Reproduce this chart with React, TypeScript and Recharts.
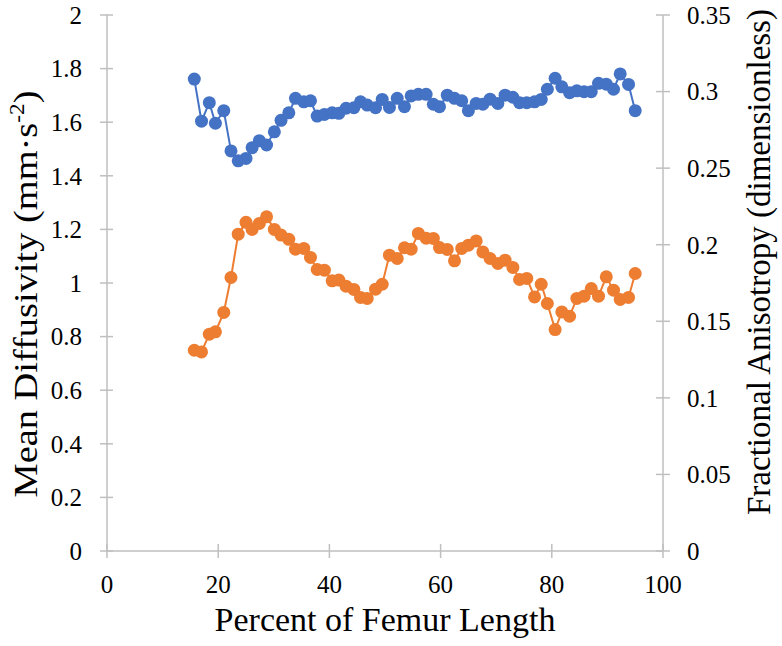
import { LineChart, Line, XAxis, YAxis, Label } from 'recharts';

// percent of femur length for each sample
const percent = [
  15.7, 17.0, 18.4, 19.5, 21.0, 22.3, 23.6, 25.0, 26.1, 27.4,
  28.7, 30.1, 31.3, 32.7, 33.9, 35.4, 36.6, 37.8, 39.1, 40.5,
  41.7, 43.0, 44.4, 45.6, 46.8, 48.3, 49.5, 50.8, 52.2, 53.5,
  54.7, 56.0, 57.4, 58.7, 59.8, 61.2, 62.5, 63.8, 65.0, 66.4,
  67.6, 68.9, 70.3, 71.6, 73.0, 74.2, 75.5, 76.9, 78.1, 79.2,
  80.6, 81.8, 83.2, 84.5, 85.8, 87.1, 88.4, 89.8, 91.1, 92.3,
  93.8, 95.0,
];

const meanDiffusivity = [
  1.761, 1.604, 1.673, 1.596, 1.643, 1.493, 1.456, 1.465, 1.505, 1.531,
  1.515, 1.564, 1.607, 1.635, 1.689, 1.676, 1.680, 1.623, 1.629, 1.635,
  1.633, 1.652, 1.654, 1.676, 1.664, 1.654, 1.685, 1.655, 1.689, 1.658,
  1.698, 1.704, 1.704, 1.667, 1.658, 1.701, 1.689, 1.680, 1.643, 1.670,
  1.667, 1.686, 1.670, 1.701, 1.693, 1.673, 1.673, 1.676, 1.685, 1.723,
  1.764, 1.732, 1.710, 1.717, 1.714, 1.714, 1.745, 1.742, 1.723, 1.780,
  1.741, 1.643,
];

const fractionalAnisotropy = [
  0.1311, 0.1300, 0.1416, 0.1431, 0.1558, 0.1786, 0.2069, 0.2146, 0.2100, 0.2139,
  0.2182, 0.2100, 0.2063, 0.2035, 0.1971, 0.1976, 0.1917, 0.1838, 0.1834, 0.1764,
  0.1769, 0.1729, 0.1708, 0.1656, 0.1649, 0.1710, 0.1742, 0.1932, 0.1910, 0.1980,
  0.1971, 0.2074, 0.2043, 0.2041, 0.1981, 0.1969, 0.1895, 0.1976, 0.1997, 0.2025,
  0.1953, 0.1910, 0.1878, 0.1899, 0.1852, 0.1773, 0.1780, 0.1659, 0.1742, 0.1616,
  0.1446, 0.1561, 0.1533, 0.1649, 0.1664, 0.1714, 0.1664, 0.1790, 0.1703, 0.1643,
  0.1656, 0.1812,
];

const xTicks = [0, 20, 40, 60, 80, 100];
const mdTicks = [0, 0.2, 0.4, 0.6, 0.8, 1, 1.2, 1.4, 1.6, 1.8, 2];
const faTicks = [0, 0.05, 0.1, 0.15, 0.2, 0.25, 0.3, 0.35];

const data = percent.map((x, i) => ({
  x,
  md: meanDiffusivity[i],
  fa: fractionalAnisotropy[i],
}));

const FONT = '"Liberation Serif", "DejaVu Serif", serif';
const AXIS = '#bfbfbf';
const TICK_SIZE = 7;
const TICK_MARGIN = 17;

// Excel style "cross" ticks: the outer half comes from recharts, the inner half is drawn here
const CrossTick = ({ x, y, payload, orient }: any) => {
  const off = TICK_SIZE + TICK_MARGIN;
  let line = null;
  if (orient === 'left') {
    const ax = x + off;
    line = <line x1={ax} x2={ax + TICK_SIZE} y1={y} y2={y} stroke={AXIS} strokeWidth={1.5} />;
  } else if (orient === 'right') {
    const ax = x - off;
    line = <line x1={ax - TICK_SIZE} x2={ax} y1={y} y2={y} stroke={AXIS} strokeWidth={1.5} />;
  } else {
    const ay = y - off;
    line = <line x1={x} x2={x} y1={ay - TICK_SIZE} y2={ay} stroke={AXIS} strokeWidth={1.5} />;
  }
  return (
    <g>
      {line}
      <text
        x={x}
        y={y}
        dy={orient === 'bottom' ? '0.71em' : '0.355em'}
        textAnchor={orient === 'left' ? 'end' : orient === 'right' ? 'start' : 'middle'}
        fill="#000"
        style={{ fontFamily: FONT, fontSize: 25 }}
      >
        {String(payload.value)}
      </text>
    </g>
  );
};

export default function App() {
  return (
    <div style={{ position: 'absolute', left: 0, top: 0, background: '#fff', fontFamily: FONT }}>
      <LineChart
        width={782}
        height={646}
        data={data}
        margin={{ top: 15, right: 0, bottom: 0, left: 0 }}
      >
        <XAxis
          type="number"
          dataKey="x"
          domain={[0, 100]}
          ticks={xTicks}
          height={95}
          stroke={AXIS}
          strokeWidth={1.5}
          tickSize={TICK_SIZE}
          tickMargin={TICK_MARGIN}
          tick={<CrossTick orient="bottom" />}
          interval={0}
        >
          <Label
            content={() => (
              <text
                x={385}
                y={631}
                textAnchor="middle"
                fill="#000"
                style={{ fontFamily: FONT, fontSize: 34 }}
              >
                Percent of Femur Length
              </text>
            )}
          />
        </XAxis>
        <YAxis
          yAxisId="md"
          orientation="left"
          domain={[0, 2]}
          ticks={mdTicks}
          width={107}
          stroke={AXIS}
          strokeWidth={1.5}
          tickSize={TICK_SIZE}
          tickMargin={TICK_MARGIN + 1}
          tick={<CrossTick orient="left" />}
          interval={0}
        >
          <Label
            content={() => (
              <text
                x={37}
                y={294}
                transform="rotate(-90 37 294)"
                textAnchor="middle"
                fill="#000"
                textLength={407}
                lengthAdjust="spacingAndGlyphs"
                style={{ fontFamily: FONT, fontSize: 33 }}
              >
                Mean Diffusivity (mm·s
                <tspan dy={-13} style={{ fontSize: 20 }}>-2</tspan>
                <tspan dy={13}>)</tspan>
              </text>
            )}
          />
        </YAxis>
        <YAxis
          yAxisId="fa"
          orientation="right"
          domain={[0, 0.35]}
          ticks={faTicks}
          width={119}
          stroke={AXIS}
          strokeWidth={1.5}
          tickSize={TICK_SIZE}
          tickMargin={TICK_MARGIN}
          tick={<CrossTick orient="right" />}
          interval={0}
        >
          <Label
            content={() => (
              <text
                x={770}
                y={262}
                transform="rotate(-90 770 262)"
                textAnchor="middle"
                fill="#000"
                style={{ fontFamily: FONT, fontSize: 33 }}
              >
                Fractional Anisotropy (dimensionless)
              </text>
            )}
          />
        </YAxis>
        <Line
          yAxisId="md"
          dataKey="md"
          stroke="#4472c4"
          strokeWidth={2}
          dot={{ r: 6.5, fill: '#4472c4', stroke: '#4472c4', strokeWidth: 0 }}
          isAnimationActive={false}
        />
        <Line
          yAxisId="fa"
          dataKey="fa"
          stroke="#ed7d31"
          strokeWidth={2}
          dot={{ r: 6.5, fill: '#ed7d31', stroke: '#ed7d31', strokeWidth: 0 }}
          isAnimationActive={false}
        />
      </LineChart>
    </div>
  );
}
